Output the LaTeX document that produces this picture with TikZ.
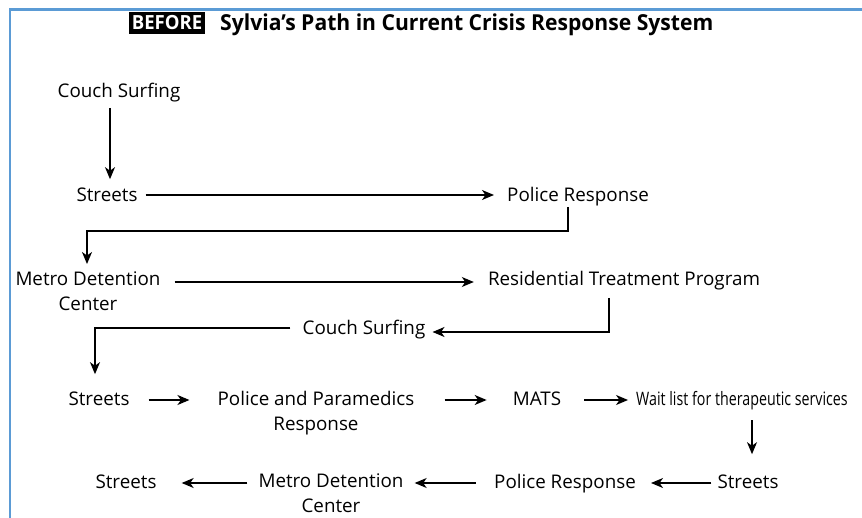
\documentclass[tikz,border=0pt]{standalone}
\usepackage{fontspec}
\setmainfont{Open Sans}
\newfontfamily\condfont[FakeStretch=0.77]{Open Sans}
\newfontfamily\condbold[FakeStretch=0.95]{Open Sans Bold}
\newfontfamily\titlefont[FakeStretch=0.96]{Open Sans Bold}
\usetikzlibrary{arrows.meta}
\definecolor{frameblue}{HTML}{5B9BD5}

\begin{document}
\begin{tikzpicture}[x=1pt, y=-1pt,
  lbl/.style={inner sep=0pt, anchor=base, align=center,
              font=\fontsize{18.8}{25}\selectfont},
  conn/.style={line width=1.3pt,
               -{Stealth[length=12pt, width=10pt, inset=3.5pt]}},
]
\useasboundingbox (0,0) rectangle (862,518);

% frame
\draw[frameblue, line width=2.2pt] (10,518) -- (10,9.5) -- (862,9.5);

% heading
\node[fill=black, text=white, inner xsep=3pt, inner ysep=0pt,
      minimum height=22pt, font=\condbold\fontsize{19.5}{19.5}\selectfont]
      (tag) at (167,23) {BEFORE};
\node[inner sep=0pt, anchor=base west, font=\titlefont\fontsize{22}{22}\selectfont]
      (title) at (220,31) {Sylvia’s Path in Current Crisis Response System};

% steps (two-line labels are placed by the baseline of their last line)
\node[lbl] (cs1)  at (119,98)  {Couch Surfing};
\node[lbl] (st1)  at (107,202) {Streets};
\node[lbl] (pr1)  at (578,202) {Police Response};
\node[lbl] (mdc1) at (88,311)  {Metro Detention\\Center};
\node[lbl] (rtp)  at (624,286) {Residential Treatment Program};
\node[lbl] (cs2)  at (364,335) {Couch Surfing};
\node[lbl] (st2)  at (99,406)  {Streets};
\node[lbl] (ppr)  at (316,431) {Police and Paramedics\\Response};
\node[lbl] (mats) at (537,406) {MATS};
\node[lbl, font=\condfont\fontsize{18.5}{25}\selectfont]
           (wl)   at (742,406) {Wait list for therapeutic services};
\node[lbl] (st3)  at (748,488) {Streets};
\node[lbl] (pr2)  at (565,488) {Police Response};
\node[lbl] (mdc2) at (331,512) {Metro Detention\\Center};
\node[lbl] (st4)  at (126,488) {Streets};

% bend point of the first elbow connector
\coordinate (k1) at (87,231);

% connectors
\draw[conn] ([shift={(-9,10)}]cs1.base) -- ([shift={(-9,-9)}]cs1.base |- st1.north);
\draw[conn] ([shift={(8,-7)}]st1.base east) -- ([shift={(-13,-7)}]pr1.base west);
\draw[conn] ([shift={(-10,5)}]pr1.base) |- (k1) -- ([yshift=8pt]k1 |- mdc1.north);
\draw[conn] ([shift={(14,-29)}]mdc1.base east) -- ([shift={(-14,-4)}]rtp.base west);
\draw[conn] ([shift={(-15,12)}]rtp.base) |- ([shift={(7,-3)}]cs2.base east);
\draw[conn] ([shift={(-12,-7)}]cs2.base west) -| ([shift={(-4,-18)}]st2.north);
\draw[conn] ([shift={(19,-6)}]st2.base east) -- ([shift={(-28,-31)}]ppr.base west);
\draw[conn] ([shift={(30,-31)}]ppr.base east) -- ([shift={(-26,-6)}]mats.base west);
\draw[conn] ([shift={(23,-6)}]mats.base east) -- ([shift={(-8,-6)}]wl.base west);
\draw[conn] ([shift={(10,14)}]wl.base) -- ([shift={(10,-20)}]wl.base |- st3.north);
\draw[conn] ([shift={(-6,-5)}]st3.base west) -- ([shift={(15,-5)}]pr2.base east);
\draw[conn] ([shift={(-18,-5)}]pr2.base west) -- ([shift={(11,-29)}]mdc2.base east);
\draw[conn] ([shift={(-11,-29)}]mdc2.base west) -- ([shift={(25,-5)}]st4.base east);
\end{tikzpicture}
\end{document}
